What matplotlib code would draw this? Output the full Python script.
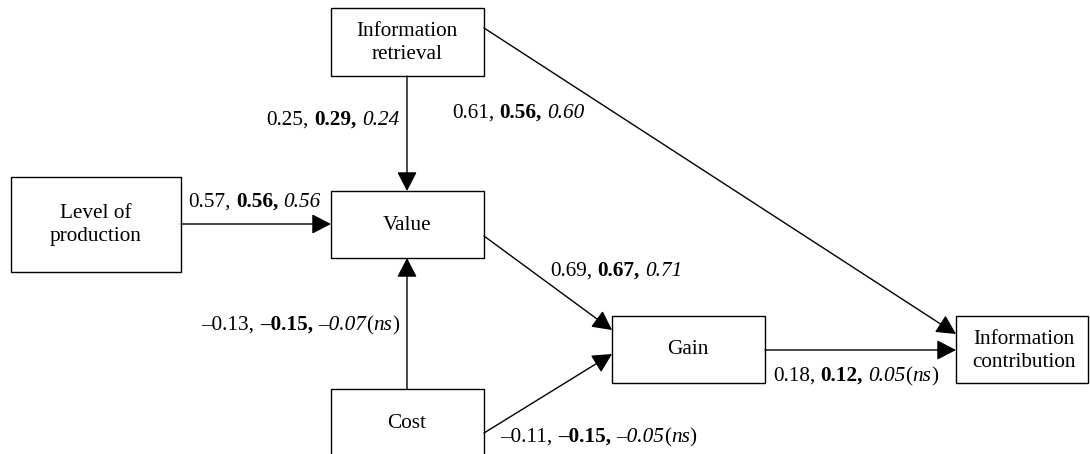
import matplotlib
matplotlib.use("Agg")
import matplotlib.pyplot as plt
from matplotlib.patches import Rectangle

plt.rcParams['font.family'] = ['Liberation Serif', 'DejaVu Serif']

# nodes of the path model
nodes = ["Information\nretrieval", "Level of\nproduction", "Value", "Cost", "Gain",
         "Information\ncontribution"]

# paths (from, to) and coefficients for the three models
paths = [(0, 2), (1, 2), (3, 2), (0, 5), (2, 4), (3, 4), (4, 5)]
coef_a = [0.25, 0.57, -0.13, 0.61, 0.69, -0.11, 0.18]
coef_b = [0.29, 0.56, -0.15, 0.56, 0.67, -0.15, 0.12]
coef_c = [0.24, 0.56, -0.07, 0.60, 0.71, -0.05, 0.05]
not_sig = [False, False, True, False, False, True, True]

# layout in pixels (x0, y0, x1, y1)
boxes = [(331, 8, 484, 76), (11, 177, 181, 272), (331, 191, 484, 258),
         (331, 389, 484, 470), (612, 316, 765, 383), (956, 316, 1088, 383)]
text_xy = [(407, 43), (96, 225), (407, 225), (407, 423), (688, 349), (1024, 351)]
# arrow start / end points
arrows = [((407, 76), (407, 191)), ((181, 224), (331, 224)), ((407, 389), (407, 258)),
          ((484, 28), (956, 334)), ((484, 236), (612, 330)), ((484, 433), (612, 354)),
          ((765, 350), (956, 350))]
# label anchor (x, baseline y, ha)
labels_pos = [(399, 125, 'right'), (188, 207, 'left'), (399, 330, 'right'),
              (452, 118, 'left'), (550, 276, 'left'), (500, 442, 'left'),
              (773, 381, 'left')]


def fmt(v):
    return ("\u2013" if v < 0 else "") + f"{abs(v):.2f}"


fig = plt.figure(figsize=(10.9, 4.54), dpi=100)
ax = fig.add_axes([0, 0, 1, 1])
ax.set_xlim(0, 1090)
ax.set_ylim(454, 0)
ax.axis('off')
renderer = fig.canvas.get_renderer()

fs = 15.3
for name, (x0, y0, x1, y1), (tx, ty) in zip(nodes, boxes, text_xy):
    ax.add_patch(Rectangle((x0, y0), x1 - x0, y1 - y0, fill=False, lw=1.0, ec='black'))
    ax.text(tx, ty, name, ha='center', va='center', fontsize=fs, linespacing=1.33)

for (p0, p1) in arrows:
    ax.annotate("", xy=p1, xytext=p0,
                arrowprops=dict(arrowstyle="-|>,head_length=0.85,head_width=0.44",
                                mutation_scale=14, lw=1.0, color='black',
                                shrinkA=0, shrinkB=0))


def width(s, **kw):
    t = ax.text(0, 0, s, fontsize=fs, **kw)
    w = t.get_window_extent(renderer).width
    t.remove()
    return w


space = width("x x") - width("xx")


def rich_text(x, y, pieces, ha):
    # pieces: (text, weight, style, gap after)
    arts, widths = [], []
    for s, wt, st, gap in pieces:
        a = ax.text(0, y, s, fontsize=fs, fontweight=wt, fontstyle=st,
                    ha='left', va='baseline')
        arts.append(a)
        widths.append(a.get_window_extent(renderer).width + (space if gap else 0))
    pos = x if ha == 'left' else x - sum(widths)
    for a, w in zip(arts, widths):
        a.set_x(pos)
        pos += w


for a, b, c, ns, (lx, ly, ha) in zip(coef_a, coef_b, coef_c, not_sig, labels_pos):
    pieces = [(fmt(a) + ",", 'normal', 'normal', True),
              (fmt(b) + ",", 'bold', 'normal', True),
              (fmt(c), 'normal', 'italic', False)]
    if ns:
        pieces += [("(", 'normal', 'normal', False),
                   ("ns", 'normal', 'italic', False),
                   (")", 'normal', 'normal', False)]
    rich_text(lx, ly, pieces, ha)

fig.savefig("out.png", dpi=100)
